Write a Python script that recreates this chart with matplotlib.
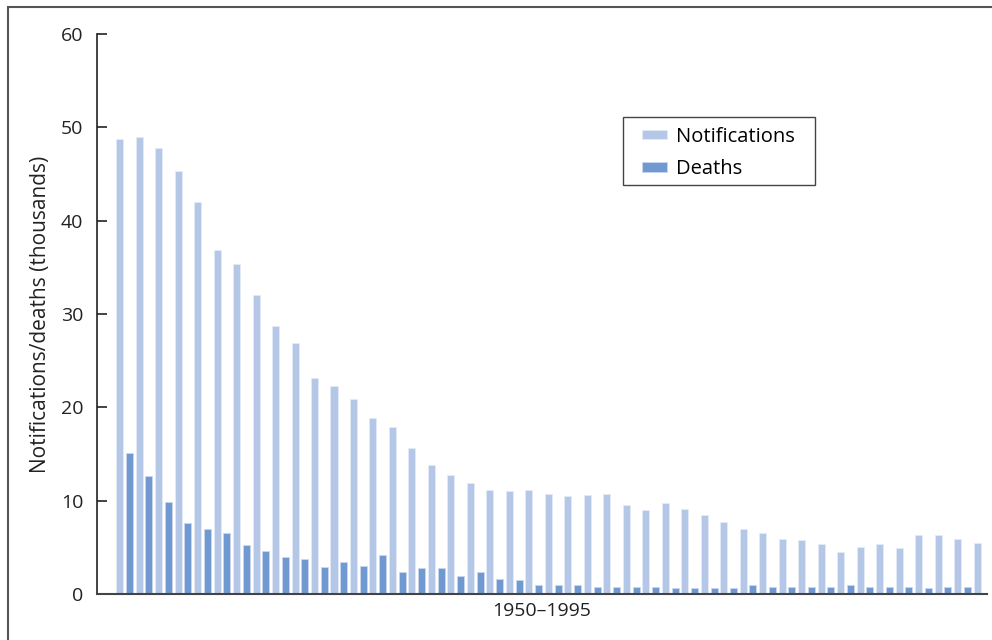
import numpy as np
import matplotlib.pyplot as plt
from matplotlib.patches import Rectangle

plt.rcParams['font.family'] = ['Open Sans', 'DejaVu Sans']

# thousands per year, 1950-1995 (45 bars shown)
notifications = [48.7, 49.0, 47.8, 45.3, 42.0, 36.8, 35.3, 32.0, 28.7, 26.9,
                 23.1, 22.3, 20.9, 18.8, 17.9, 15.6, 13.8, 12.7, 11.9, 11.1,
                 11.0, 11.1, 10.7, 10.5, 10.6, 10.7, 9.5, 9.0, 9.8, 9.1,
                 8.5, 7.7, 7.0, 6.5, 5.9, 5.8, 5.4, 4.5, 5.0, 5.4,
                 4.9, 6.3, 6.3, 5.9, 5.5]
deaths = [15.1, 12.6, 9.9, 7.6, 7.0, 6.5, 5.2, 4.6, 4.0, 3.8,
          2.9, 3.4, 3.0, 4.2, 2.4, 2.8, 2.8, 1.9, 2.4, 1.6,
          1.5, 1.0, 1.0, 1.0, 0.8, 0.8, 0.8, 0.8, 0.6, 0.6,
          0.6, 0.6, 1.0, 0.8, 0.7, 0.7, 0.7, 1.0, 0.8, 0.8,
          0.8, 0.6, 0.7, 0.7, np.nan]
yticks = [0, 10, 20, 30, 40, 50, 60]

x = np.arange(len(notifications))
w = 0.36

fig = plt.figure(figsize=(9.92, 6.4), dpi=100)
ax = fig.add_axes([0.0978, 0.0719, 0.8972, 0.8751])

ax.bar(x - 0.25, notifications, w, color='#B4C7E7', edgecolor='#E4EBF7', lw=0.6, label='Notifications')
ax.bar(x + 0.25, deaths, w, color='#7199D1', edgecolor='#C9D8EE', lw=0.6, label='Deaths')

ax.set_xlim(-1.41, len(x) - 0.74)
ax.set_ylim(0, 60)
ax.set_yticks(yticks)
ax.set_xticks([])
ax.tick_params(axis='y', direction='in', length=7.5, width=1.2, labelsize=14, pad=10, colors='#222222')
for s in ['top', 'right']:
    ax.spines[s].set_visible(False)
ax.spines['left'].set_color('#222222')
ax.spines['bottom'].set_color('#444444')
ax.spines['left'].set_linewidth(1.2)
ax.spines['bottom'].set_linewidth(1.5)

ax.set_ylabel('Notifications/deaths (thousands)', fontsize=15, color='#222222', labelpad=7)
ax.set_xlabel('1950\u20131995', fontsize=14, color='#222222', labelpad=6)

# legend box drawn separately so it can be wider than the entries
ax.add_patch(Rectangle((0.591, 0.730), 0.216, 0.122, transform=ax.transAxes,
                       fill=False, edgecolor='#444444', lw=1.0, zorder=5))
leg = ax.legend(loc='upper left', bbox_to_anchor=(0.612, 0.834), borderaxespad=0, fontsize=14.5,
                frameon=False, handlelength=1.25, handleheight=0.35, handletextpad=0.45,
                borderpad=0, labelspacing=0.6)

# outer frame
fig.patches.append(Rectangle((8 / 992, -0.1), 1.2, 1 - 6.5 / 640 + 0.1, transform=fig.transFigure,
                             fill=False, edgecolor='#555555', lw=1.5))

fig.savefig('out.png', dpi=100)
